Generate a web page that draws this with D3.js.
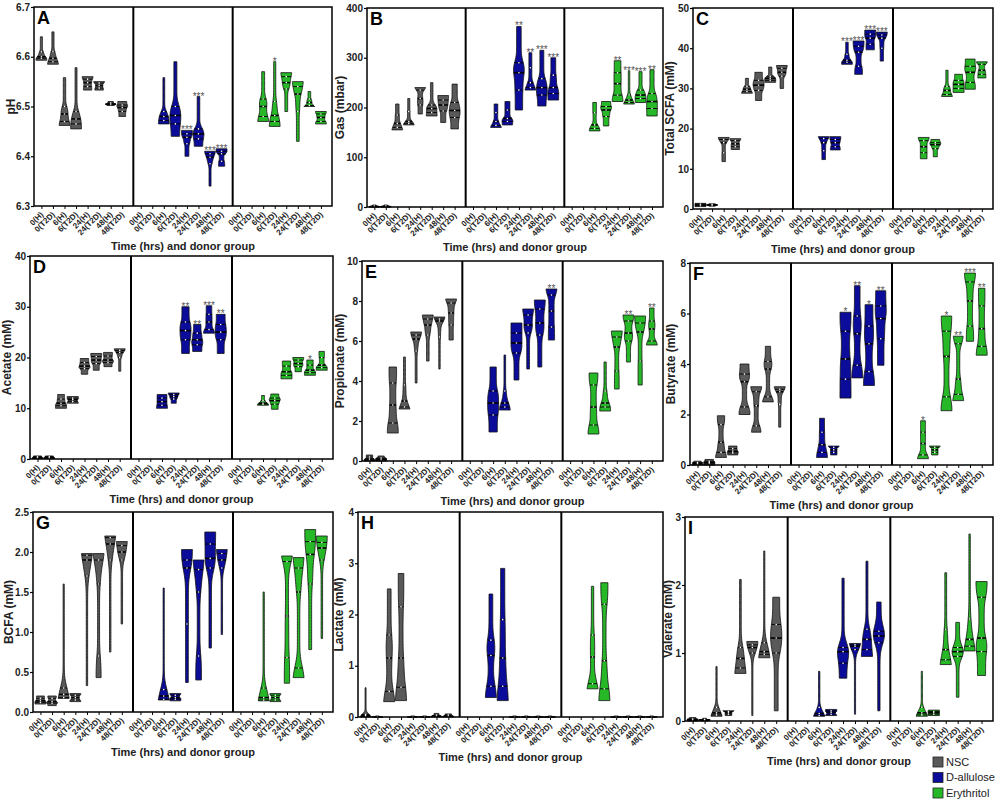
<!DOCTYPE html>
<html>
<head>
<meta charset="utf-8">
<script src="https://cdn.jsdelivr.net/npm/d3@7"></script>
<style>
  body { margin: 0; background: #fff; }
  text { font-family: "Liberation Sans", Arial, sans-serif; }
</style>
</head>
<body>
<svg id="chart" width="1000" height="800"></svg>
<script>
/*global d3*/
// categories and treatments
var groups = ["0(H)", "0(T2D)", "6(H)", "6(T2D)", "24(H)", "24(T2D)", "48(H)", "48(T2D)"];
var treatments = ["NSC", "D-allulose", "Erythritol"];

// A - pH
var phTicks = [6.3, 6.4, 6.5, 6.6, 6.7];
var phNSC = [[6.593, 6.597, 6.60, 6.61, 6.64], [6.585, 6.59, 6.597, 6.61, 6.65], [6.462, 6.47, 6.485, 6.50, 6.558], [6.455, 6.465, 6.475, 6.49, 6.578],
  [6.533, 6.54, 6.548, 6.555, 6.56], [6.533, 6.537, 6.542, 6.547, 6.55], [6.502, 6.504, 6.505, 6.507, 6.51], [6.48, 6.49, 6.498, 6.503, 6.51]];
var phAllulose = [null, null, [6.465, 6.472, 6.48, 6.49, 6.558], [6.44, 6.465, 6.482, 6.50, 6.59],
  [6.40, 6.425, 6.438, 6.445, 6.452], [6.42, 6.435, 6.445, 6.455, 6.52], [6.34, 6.385, 6.398, 6.405, 6.41], [6.38, 6.39, 6.405, 6.41, 6.415]];
var phErythritol = [null, null, [6.47, 6.48, 6.50, 6.515, 6.57], [6.46, 6.47, 6.482, 6.51, 6.59],
  [6.49, 6.535, 6.548, 6.56, 6.568], [6.43, 6.49, 6.525, 6.54, 6.55], [6.50, 6.502, 6.508, 6.515, 6.53], [6.465, 6.47, 6.478, 6.485, 6.49]];
var phStars = [["", "", "", "", "", "", "", ""], ["", "", "", "", "***", "***", "***", "***"], ["", "", "", "*", "", "", "", ""]];

// B - gas
var gasTicks = [0, 100, 200, 300, 400];
var gasNSC = [[0, 0.5, 1, 2, 4], [0, 0.5, 1, 2, 4], [155, 160, 168, 185, 207], [165, 168, 172, 192, 218],
  [187, 205, 218, 235, 240], [183, 190, 198, 205, 250], [170, 193, 205, 215, 224], [157, 180, 194, 210, 247]];
var gasAllulose = [null, null, [160, 164, 172, 190, 207], [165, 172, 178, 195, 212],
  [195, 235, 270, 290, 363], [235, 240, 250, 280, 310], [203, 225, 240, 258, 315], [215, 228, 240, 265, 300]];
var gasErythritol = [null, null, [153, 158, 165, 190, 210], [163, 182, 195, 202, 212],
  [212, 225, 248, 270, 294], [207, 210, 215, 225, 274], [210, 218, 225, 235, 272], [183, 198, 212, 228, 276]];
var gasStars = [["", "", "", "", "", "", "", ""], ["", "", "", "", "**", "**", "***", "***"], ["", "", "", "", "**", "***", "***", "**"]];

// C - total SCFA
var scfaTicks = [0, 10, 20, 30, 40, 50];
var scfaNSC = [[0.6, 0.8, 1.0, 1.2, 1.4], [0.7, 0.9, 1.0, 1.1, 1.3], [11.8, 14, 16.5, 17.3, 17.8], [14.8, 15.5, 16.2, 17, 17.5],
  [28.8, 29.2, 29.8, 30.5, 32.5], [27, 29.5, 30.8, 32, 34], [31.5, 32, 32.5, 33, 35.3], [30, 33, 34, 35, 35.7]];
var scfaAllulose = [null, null, [12.3, 14.5, 16.5, 17.5, 18], [14.7, 15.5, 16.5, 17.3, 18],
  [36, 36.5, 37, 38.5, 41.5], [33.5, 35.5, 39, 40.5, 41.8], [39.6, 41, 42.5, 43.5, 44.5], [36.8, 40, 42.5, 43.3, 44]];
var scfaErythritol = [null, null, [12.5, 14, 15.5, 17, 17.8], [13, 15, 16, 16.5, 17.3],
  [28, 28.5, 29.5, 30.5, 34.5], [29, 30, 31, 32, 33.5], [29.8, 31.5, 34, 35.5, 37.3], [32.6, 33.5, 34.5, 36, 36.6]];
var scfaStars = [["", "", "", "", "", "", "", ""], ["", "", "", "", "***", "***", "***", "***"], ["", "", "", "", "", "", "", ""]];

// D - acetate
var acetateTicks = [0, 10, 20, 30, 40];
var acetateNSC = [[0.1, 0.2, 0.3, 0.45, 0.6], [0.1, 0.2, 0.3, 0.45, 0.6], [10, 10.5, 11, 11.8, 12.7], [11, 11.3, 11.7, 12, 12.3],
  [16.7, 17.8, 18.3, 19, 19.8], [17.5, 18.8, 19.5, 20.2, 20.8], [18.2, 19, 19.5, 20.3, 21], [17.3, 20, 21, 21.4, 21.7]];
var acetateAllulose = [null, null, [10, 10.6, 11.3, 12, 12.7], [11, 11.8, 12.3, 12.7, 13],
  [20.8, 23.5, 25.3, 27, 30], [21.2, 22.5, 23.5, 24.8, 26.5], [24.8, 25.5, 27, 28.5, 30.2], [20.8, 23.5, 25, 26.5, 28.5]];
var acetateErythritol = [null, null, [10.6, 10.8, 11, 11.5, 12.5], [9.8, 10.8, 11.5, 12, 12.8],
  [15.8, 16.5, 17.2, 18.3, 19.3], [17.2, 18.2, 18.8, 19.5, 20], [16.5, 17, 17.5, 18.5, 19.5], [17.5, 18, 18.5, 20, 21.2]];
var acetateStars = [["", "", "", "", "", "", "", ""], ["", "", "", "", "**", "**", "***", "**"], ["", "", "", "", "", "", "*", ""]];

// E - propionate
var propionateTicks = [0, 2, 4, 6, 8, 10];
var propionateNSC = [[0, 0.05, 0.1, 0.2, 0.3], [0, 0.05, 0.1, 0.15, 0.25], [1.4, 1.9, 2.8, 3.9, 4.7], [2.6, 2.7, 3.0, 3.8, 5.2],
  [3.9, 5.5, 6.1, 6.3, 6.45], [5.0, 6.3, 6.8, 7.1, 7.3], [4.6, 6.2, 7.0, 7.1, 7.2], [6.05, 6.8, 7.4, 7.9, 8.1]];
var propionateAllulose = [null, null, [1.45, 2.3, 2.9, 3.5, 4.7], [2.55, 2.7, 2.9, 3.5, 5.3],
  [4.05, 5.4, 5.9, 6.4, 6.9], [4.6, 6.4, 6.8, 7.3, 7.6], [4.7, 6.3, 6.9, 7.6, 8.05], [6.05, 6.7, 7.5, 8.3, 8.6]];
var propionateErythritol = [null, null, [1.35, 1.8, 2.7, 3.8, 4.4], [2.5, 2.7, 2.9, 3.5, 4.95],
  [3.6, 4.5, 5.7, 6.2, 6.5], [4.95, 6.0, 6.4, 7.0, 7.3], [3.8, 5.0, 6.45, 6.9, 7.25], [5.8, 6.0, 6.6, 7.0, 7.65]];
var propionateStars = [["", "", "", "", "", "", "", ""], ["", "", "", "", "", "", "", "**"], ["", "", "", "", "", "**", "", "**"]];

// F - butyrate
var butyrateTicks = [0, 2, 4, 6, 8];
var butyrateNSC = [[0, 0.03, 0.07, 0.1, 0.15], [0, 0.05, 0.1, 0.15, 0.22], [0.3, 0.5, 0.9, 1.6, 1.95], [0.4, 0.48, 0.55, 0.65, 0.75],
  [2.0, 2.3, 3.3, 3.6, 4.0], [1.3, 1.55, 2.35, 2.9, 3.1], [2.5, 2.7, 3.8, 4.1, 4.7], [1.5, 2.4, 2.9, 3.0, 3.1]];
var butyrateAllulose = [null, null, [0.3, 0.5, 0.8, 1.3, 1.85], [0.4, 0.5, 0.6, 0.7, 0.75],
  [2.65, 3.4, 4.2, 5.3, 6.05], [3.45, 3.95, 5.2, 5.9, 7.1], [3.15, 3.7, 4.8, 5.5, 6.35], [3.95, 5.0, 5.8, 6.3, 6.9]];
var butyrateErythritol = [null, null, [0.25, 0.4, 0.85, 1.3, 1.75], [0.4, 0.5, 0.6, 0.7, 0.75],
  [2.15, 2.7, 4.3, 5.3, 5.9], [2.55, 2.8, 3.4, 4.8, 5.1], [4.9, 5.5, 6.5, 7.25, 7.6], [4.35, 4.7, 5.4, 6.3, 7.0]];
var butyrateStars = [["", "", "", "", "", "", "", ""], ["", "", "", "", "*", "**", "*", "**"], ["", "", "*", "", "*", "**", "***", "**"]];

// G - BCFA
var bcfaTicks = [0, 0.5, 1.0, 1.5, 2.0, 2.5];
var bcfaNSC = [[0.1, 0.12, 0.14, 0.17, 0.2], [0.08, 0.11, 0.13, 0.17, 0.2], [0.17, 0.18, 0.22, 0.3, 1.6], [0.13, 0.15, 0.18, 0.21, 0.23],
  [0.33, 1.7, 1.9, 1.96, 1.98], [0.43, 0.7, 1.6, 1.9, 1.98], [0.75, 1.9, 2.1, 2.18, 2.2], [1.1, 1.9, 2.0, 2.08, 2.13]];
var bcfaAllulose = [null, null, [0.15, 0.16, 0.2, 0.28, 1.55], [0.14, 0.16, 0.18, 0.21, 0.23],
  [0.37, 1.1, 1.8, 1.9, 2.03], [0.4, 0.7, 1.5, 1.78, 1.9], [0.8, 1.8, 1.92, 2.1, 2.25], [0.97, 1.8, 1.9, 1.98, 2.03]];
var bcfaErythritol = [null, null, [0.14, 0.15, 0.18, 0.3, 1.5], [0.13, 0.15, 0.18, 0.21, 0.23],
  [0.36, 0.68, 1.2, 1.88, 1.95], [0.43, 0.55, 1.5, 1.8, 1.93], [0.78, 1.6, 1.97, 2.13, 2.28], [0.92, 1.9, 2.05, 2.12, 2.2]];

// H - lactate
var lactateTicks = [0, 1, 2, 3, 4];
var lactateNSC = [[0, 0.01, 0.03, 0.05, 0.57], [0, 0, 0.005, 0.01, 0.02], [0.3, 0.5, 1.15, 1.6, 2.5], [0.32, 0.58, 1.15, 2.15, 2.8],
  [0, 0, 0.005, 0.01, 0.02], [0, 0, 0.005, 0.01, 0.02], [0, 0.01, 0.02, 0.04, 0.07], [0, 0.01, 0.02, 0.04, 0.06]];
var lactateAllulose = [null, null, [0.38, 0.6, 1.2, 1.5, 2.4], [0.32, 0.6, 1.15, 1.9, 2.9],
  [0, 0, 0.005, 0.01, 0.02], [0, 0, 0.005, 0.01, 0.02], [0, 0, 0.005, 0.01, 0.02], [0, 0, 0.005, 0.01, 0.02]];
var lactateErythritol = [null, null, [0.55, 0.65, 1.17, 1.6, 2.55], [0.32, 0.55, 1.1, 2.2, 2.62],
  [0, 0, 0.005, 0.01, 0.02], [0, 0, 0.005, 0.01, 0.02], [0, 0, 0.005, 0.01, 0.02], [0, 0, 0.005, 0.01, 0.02]];

// I - valerate
var valerateTicks = [0, 1, 2, 3];
var valerateNSC = [[0, 0.01, 0.02, 0.03, 0.05], [0, 0.01, 0.015, 0.02, 0.04], [0.07, 0.09, 0.12, 0.2, 0.8], [0.08, 0.1, 0.12, 0.14, 0.15],
  [0.7, 0.78, 0.92, 1.08, 2.08], [0.08, 1.0, 1.08, 1.12, 1.17], [0.93, 0.98, 1.02, 1.15, 2.5], [0.15, 1.0, 1.22, 1.42, 1.82]];
var valerateAllulose = [null, null, [0.07, 0.08, 0.11, 0.2, 0.73], [0.08, 0.1, 0.13, 0.15, 0.17],
  [0.63, 0.85, 1.02, 1.08, 2.1], [0.1, 1.05, 1.1, 1.12, 1.14], [0.95, 1.05, 1.2, 1.35, 2.35], [0.15, 1.15, 1.25, 1.32, 1.75]];
var valerateErythritol = [null, null, [0.07, 0.09, 0.12, 0.2, 0.73], [0.08, 0.1, 0.12, 0.14, 0.16],
  [0.83, 0.9, 1.05, 1.35, 2.18], [0.35, 0.95, 1.02, 1.08, 1.45], [1.03, 1.1, 1.2, 1.5, 2.75], [0.67, 1.02, 1.22, 1.82, 2.05]];

var noStars = [["", "", "", "", "", "", "", ""], ["", "", "", "", "", "", "", ""], ["", "", "", "", "", "", "", ""]];

var colors = ["#595959", "#0c0c9a", "#27b827"];

// panel layout (pixel boxes of each plot area, tx = distance of y title baseline from axis)
var panels = [
  {letter: "A", title: "pH", ticks: phTicks, fmt: ".1f", data: [phNSC, phAllulose, phErythritol], stars: phStars, l: 34, r: 332, t: 7, b: 206, tx: 19},
  {letter: "B", title: "Gas (mbar)", ticks: gasTicks, fmt: "d", data: [gasNSC, gasAllulose, gasErythritol], stars: gasStars, l: 367, r: 663, t: 8, b: 207, tx: 23},
  {letter: "C", title: "Total SCFA (mM)", ticks: scfaTicks, fmt: "d", data: [scfaNSC, scfaAllulose, scfaErythritol], stars: scfaStars, l: 693, r: 993, t: 8, b: 209, tx: 19},
  {letter: "D", title: "Acetate (mM)", ticks: acetateTicks, fmt: "d", data: [acetateNSC, acetateAllulose, acetateErythritol], stars: acetateStars, l: 30, r: 333, t: 256, b: 459, tx: 19},
  {letter: "E", title: "Propionate (mM)", ticks: propionateTicks, fmt: "d", data: [propionateNSC, propionateAllulose, propionateErythritol], stars: propionateStars, l: 362, r: 663, t: 261, b: 461, tx: 18},
  {letter: "F", title: "Butyrate (mM)", ticks: butyrateTicks, fmt: "d", data: [butyrateNSC, butyrateAllulose, butyrateErythritol], stars: butyrateStars, l: 690, r: 993, t: 263, b: 465, tx: 15},
  {letter: "G", title: "BCFA (mM)", ticks: bcfaTicks, fmt: ".1f", data: [bcfaNSC, bcfaAllulose, bcfaErythritol], stars: noStars, l: 33, r: 333, t: 512, b: 712, tx: 20},
  {letter: "H", title: "Lactate (mM)", ticks: lactateTicks, fmt: "d", data: [lactateNSC, lactateAllulose, lactateErythritol], stars: noStars, l: 358, r: 663, t: 512, b: 717, tx: 15},
  {letter: "I", title: "Valerate (mM)", ticks: valerateTicks, fmt: "d", data: [valerateNSC, valerateAllulose, valerateErythritol], stars: noStars, l: 685, r: 993, t: 517, b: 721, tx: 13}
];

var svg = d3.select("#chart");
svg.append("rect").attr("width", 1000).attr("height", 800).attr("fill", "#fff");

// violin outline from the five numbers: 25% of the mass in each quartile band, then smoothed
function violinShape(s) {
  var lo = s[0], hi = s[4];
  var span = Math.max(hi - lo, 1e-6);
  var n = 41;
  var pts = d3.range(n).map(function (k) { return lo + span * k / (n - 1); });
  var raw = pts.map(function (v) {
    for (var i = 0; i < 4; i++) {
      if (v <= s[i + 1] || i === 3) return 0.25 / Math.max(s[i + 1] - s[i], span * 0.04);
    }
  });
  var bw = span * 0.07;
  var dens = pts.map(function (v) {
    var sum = 0, wsum = 0;
    pts.forEach(function (u, j) {
      var w = Math.exp(-0.5 * Math.pow((v - u) / bw, 2));
      sum += w * raw[j]; wsum += w;
    });
    return sum / wsum;
  });
  var m = d3.max(dens);
  return pts.map(function (v, k) { return [v, Math.pow(dens[k] / m, 0.8)]; });
}

function widthAt(shape, v) {
  var lo = shape[0][0], hi = shape[shape.length - 1][0];
  if (hi - lo < 1e-9) return shape[0][1];
  var f = (v - lo) / (hi - lo) * (shape.length - 1);
  var i = Math.max(0, Math.min(shape.length - 2, Math.floor(f)));
  var t = f - i;
  return shape[i][1] * (1 - t) + shape[i + 1][1] * t;
}

panels.forEach(function (p) {
  var g = svg.append("g");
  var y = d3.scaleLinear().domain([p.ticks[0], p.ticks[p.ticks.length - 1]]).range([p.b, p.t]);
  var subW = (p.r - p.l) / 3;

  treatments.forEach(function (tr, ti) {
    var x = d3.scalePoint().domain(groups)
      .range([p.l + ti * subW, p.l + (ti + 1) * subW])
      .padding(0.8).align(0.4);
    var hw = x.step() * 0.47;

    var ax = g.append("g")
      .attr("transform", "translate(0," + p.b + ")")
      .call(d3.axisBottom(x).tickSize(3).tickSizeOuter(0));
    ax.select(".domain").remove();
    ax.selectAll("line").attr("stroke", "#000").attr("stroke-width", 1);
    ax.selectAll("text")
      .attr("x", 0).attr("y", 0).attr("dy", 0)
      .attr("transform", "translate(2,9) rotate(-45)")
      .style("text-anchor", "end")
      .style("font-size", "8px")
      .style("font-weight", "bold")
      .attr("fill", "#222");

    p.data[ti].forEach(function (s, i) {
      if (!s) return;
      var cx = x(groups[i]);
      var shape = violinShape(s);
      var area = d3.area()
        .y(function (d) { return y(d[0]); })
        .x0(function (d) { return cx - d[1] * hw; })
        .x1(function (d) { return cx + d[1] * hw; })
        .curve(d3.curveBasis);
      g.append("path")
        .attr("d", area(shape))
        .attr("fill", colors[ti])
        .attr("stroke", "#111")
        .attr("stroke-width", 0.8);

      [1, 2, 3].forEach(function (q) {
        var w = Math.max(widthAt(shape, s[q]) * hw, 1.5);
        g.append("line")
          .attr("x1", cx - w).attr("x2", cx + w)
          .attr("y1", y(s[q])).attr("y2", y(s[q]))
          .attr("stroke", "#000")
          .attr("stroke-width", q === 2 ? 1.6 : 0.9);
        g.append("circle")
          .attr("cx", cx).attr("cy", y(s[q]))
          .attr("r", 0.8)
          .attr("fill", "#fff");
      });

      var star = p.stars[ti][i];
      if (star) {
        g.append("text")
          .attr("x", cx).attr("y", y(s[4]) + 3)
          .attr("text-anchor", "middle")
          .style("font-size", "10px")
          .attr("fill", "#555")
          .text(star);
      }
    });

    // divider between treatments
    if (ti > 0) {
      g.append("line")
        .attr("x1", p.l + ti * subW).attr("x2", p.l + ti * subW)
        .attr("y1", p.t).attr("y2", p.b)
        .attr("stroke", "#000").attr("stroke-width", 2);
    }
  });

  // frame
  g.append("rect")
    .attr("x", p.l).attr("y", p.t)
    .attr("width", p.r - p.l).attr("height", p.b - p.t)
    .attr("fill", "none").attr("stroke", "#000").attr("stroke-width", 1.5);

  // y axis
  var ay = g.append("g")
    .attr("transform", "translate(" + p.l + ",0)")
    .call(d3.axisLeft(y).tickValues(p.ticks).tickFormat(d3.format(p.fmt)).tickSize(3).tickPadding(1).tickSizeOuter(0));
  ay.select(".domain").remove();
  ay.selectAll("line").attr("stroke", "#000").attr("stroke-width", 1.2);
  ay.selectAll("text")
    .style("font-size", "10px")
    .style("font-weight", "bold")
    .attr("fill", "#222");

  g.append("text")
    .attr("transform", "translate(" + (p.l - p.tx) + "," + ((p.t + p.b) / 2) + ") rotate(-90)")
    .attr("text-anchor", "middle")
    .style("font-size", "12px")
    .style("font-weight", "bold")
    .attr("fill", "#222")
    .text(p.title);

  g.append("text")
    .attr("x", (p.l + p.r) / 2).attr("y", p.b + 44)
    .attr("text-anchor", "middle")
    .style("font-size", "11px")
    .style("font-weight", "bold")
    .attr("fill", "#222")
    .text("Time (hrs) and donor group");

  g.append("text")
    .attr("x", p.l + 3).attr("y", p.t + 17)
    .style("font-size", "18px")
    .style("font-weight", "bold")
    .attr("fill", "#000")
    .text(p.letter);
});

// legend
var legend = svg.selectAll(".legend")
  .data(treatments)
  .enter().append("g")
  .attr("class", "legend")
  .attr("transform", function (d, i) { return "translate(933," + (757 + i * 15.5) + ")"; });

legend.append("rect")
  .attr("width", 10).attr("height", 10)
  .attr("fill", function (d, i) { return colors[i]; })
  .attr("stroke", "#222").attr("stroke-width", 0.8);

legend.append("text")
  .attr("x", 13).attr("y", 5)
  .attr("dy", "0.35em")
  .style("font-size", "11px")
  .attr("fill", "#222")
  .text(function (d) { return d; });
</script>
</body>
</html>
